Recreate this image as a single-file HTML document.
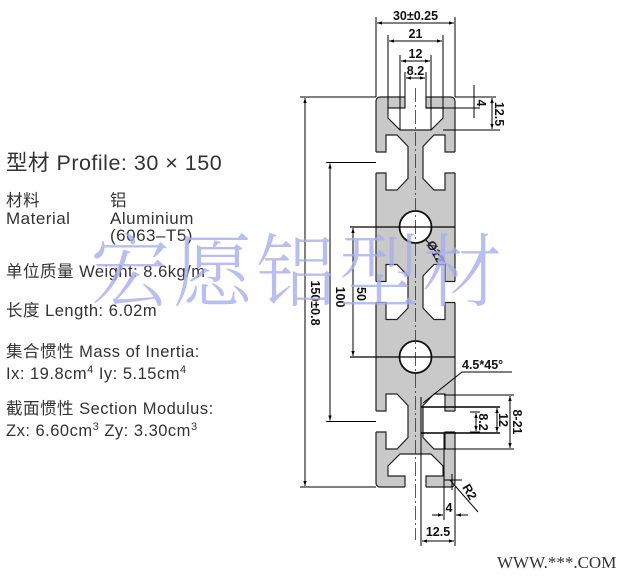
<!DOCTYPE html>
<html><head><meta charset="utf-8"><style>
html,body{margin:0;padding:0;background:#fff;}
svg{display:block;}
.t{font-family:"Liberation Sans","Noto Sans CJK SC",sans-serif;fill:#333;letter-spacing:0.5px;}
.d{font-family:"Liberation Sans",sans-serif;font-weight:bold;font-size:12.5px;fill:#111;}
</style></head><body>
<svg width="627" height="584" viewBox="0 0 627 584" xmlns="http://www.w3.org/2000/svg">
<defs>
<radialGradient id="bg" cx="0.5" cy="0" r="0.5" gradientTransform="scale(1,0.14)">
<stop offset="0" stop-color="#b5b5b5"/><stop offset="0.7" stop-color="#d8d8d8"/><stop offset="1" stop-color="#fff"/>
</radialGradient>
<marker id="a" viewBox="0 0 6 6" refX="6" refY="3" markerWidth="5" markerHeight="5" orient="auto-start-reverse"><path d="M0,1 L6,3 L0,5z" fill="#000"/></marker>
</defs>
<rect x="50" y="-2" width="480" height="24" fill="url(#bg)"/>

<!-- profile -->
<rect x="376" y="97" width="79" height="390" rx="4" fill="#c9c9c9" stroke="#222" stroke-width="1.2"/>
<g fill="#fff" stroke="none">
<path d="M374,152 L386,152 L386,135 L397,135 L408,146.5 L408,178.5 L397,190 L386,190 L386,173 L374,173z"/>
<path d="M374,281.5 L386,281.5 L386,264.5 L397,264.5 L408,276 L408,308 L397,319.5 L386,319.5 L386,302.5 L374,302.5z"/>
<path d="M374,411 L386,411 L386,394 L397,394 L408,405.5 L408,437.5 L397,449 L386,449 L386,432 L374,432z"/>
<path d="M457,152 L445,152 L445,135 L434,135 L423,146.5 L423,178.5 L434,190 L445,190 L445,173 L457,173z"/>
<path d="M457,281.5 L445,281.5 L445,264.5 L434,264.5 L423,276 L423,308 L434,319.5 L445,319.5 L445,302.5 L457,302.5z"/>
<path d="M457,411 L445,411 L445,394 L434,394 L423,405.5 L423,437.5 L434,449 L445,449 L445,432 L457,432z"/>
<path d="M405,95 L405,108 L388,108 L388,118 L400,130 L431,130 L443,118 L443,108 L426,108 L426,95z"/>
<path d="M405,489 L405,476 L388,476 L388,466 L400,454 L431,454 L443,466 L443,476 L426,476 L426,489z"/>
</g>
<g fill="none" stroke="#222" stroke-width="1.2">
<polyline points="376,152 386,152 386,135 397,135 408,146.5 408,178.5 397,190 386,190 386,173 376,173"/>
<polyline points="376,281.5 386,281.5 386,264.5 397,264.5 408,276 408,308 397,319.5 386,319.5 386,302.5 376,302.5"/>
<polyline points="376,411 386,411 386,394 397,394 408,405.5 408,437.5 397,449 386,449 386,432 376,432"/>
<polyline points="455,152 445,152 445,135 434,135 423,146.5 423,178.5 434,190 445,190 445,173 455,173"/>
<polyline points="455,281.5 445,281.5 445,264.5 434,264.5 423,276 423,308 434,319.5 445,319.5 445,302.5 455,302.5"/>
<polyline points="455,411 445,411 445,394 434,394 423,405.5 423,437.5 434,449 445,449 445,432 455,432"/>
<polyline points="405,97 405,108 388,108 388,118 400,130 431,130 443,118 443,108 426,108 426,97"/>
<polyline points="405,487 405,476 388,476 388,466 400,454 431,454 443,466 443,476 426,476 426,487"/>
</g>
<circle cx="415.5" cy="227" r="16" fill="#fff" stroke="#111" stroke-width="1.8"/>
<circle cx="415.5" cy="357" r="16" fill="#fff" stroke="#111" stroke-width="1.8"/>
<line x1="415.5" y1="88" x2="415.5" y2="540" stroke="#333" stroke-width="0.8" stroke-dasharray="14,3,2,3"/>

<!-- dimension lines -->
<g stroke="#000" stroke-width="1" fill="none">
<line x1="376" y1="17" x2="376" y2="97"/><line x1="455" y1="17" x2="455" y2="97"/>
<line x1="377" y1="23" x2="454" y2="23" marker-start="url(#a)" marker-end="url(#a)"/>
<line x1="388" y1="35" x2="388" y2="108"/><line x1="443" y1="35" x2="443" y2="108"/>
<line x1="389" y1="41" x2="442" y2="41" marker-start="url(#a)" marker-end="url(#a)"/>
<line x1="400" y1="55" x2="400" y2="130"/><line x1="431" y1="55" x2="431" y2="130"/>
<line x1="401" y1="61" x2="430" y2="61" marker-start="url(#a)" marker-end="url(#a)"/>
<line x1="405" y1="72" x2="405" y2="97"/><line x1="426" y1="72" x2="426" y2="97"/>
<line x1="406" y1="78" x2="425" y2="78" marker-start="url(#a)" marker-end="url(#a)"/>
<line x1="455" y1="97" x2="496" y2="97"/><line x1="426" y1="108" x2="480" y2="108"/><line x1="443" y1="130" x2="500" y2="130"/>
<line x1="474" y1="85" x2="474" y2="118"/>
<line x1="492" y1="98" x2="492" y2="129" marker-start="url(#a)" marker-end="url(#a)"/>
<line x1="300" y1="97" x2="376" y2="97"/><line x1="300" y1="487" x2="376" y2="487"/>
<line x1="305" y1="98" x2="305" y2="486" marker-start="url(#a)" marker-end="url(#a)"/>
<line x1="326" y1="162.5" x2="376" y2="162.5"/><line x1="326" y1="421.5" x2="376" y2="421.5"/>
<line x1="330" y1="163.5" x2="330" y2="420.5" marker-start="url(#a)" marker-end="url(#a)"/>
<line x1="350" y1="227" x2="455" y2="227" stroke-width="1.3"/><line x1="350" y1="357" x2="455" y2="357" stroke-width="1.3"/>
<line x1="353" y1="228" x2="353" y2="356" marker-start="url(#a)" marker-end="url(#a)"/>
<line x1="423" y1="403" x2="462" y2="372"/><line x1="462" y1="372" x2="512" y2="372"/>
<line x1="421" y1="397" x2="421" y2="546"/>
<line x1="444" y1="395" x2="514" y2="395"/><line x1="444" y1="449" x2="514" y2="449"/>
<line x1="510" y1="396" x2="510" y2="448" marker-start="url(#a)" marker-end="url(#a)"/>
<line x1="421" y1="407" x2="500" y2="407" stroke-width="1.6"/><line x1="421" y1="433" x2="500" y2="433" stroke-width="1.6"/>
<line x1="497" y1="408" x2="497" y2="432" marker-start="url(#a)" marker-end="url(#a)"/>
<line x1="470" y1="412" x2="480" y2="412"/><line x1="470" y1="432" x2="480" y2="432"/>
<line x1="476" y1="413" x2="476" y2="431" marker-start="url(#a)" marker-end="url(#a)"/>
<line x1="455" y1="487" x2="455" y2="546"/><line x1="444" y1="433" x2="444" y2="520"/>
<line x1="432" y1="515" x2="443" y2="515" marker-end="url(#a)"/><line x1="468" y1="515" x2="456" y2="515" marker-end="url(#a)"/>
<line x1="422" y1="541" x2="454" y2="541" marker-start="url(#a)" marker-end="url(#a)"/>
<line x1="444" y1="480" x2="462" y2="480"/><line x1="452" y1="474" x2="452" y2="490"/>
<line x1="450" y1="480" x2="478" y2="512"/>
<line x1="426" y1="240" x2="445" y2="262"/>
</g>

<text class="d" x="415.5" y="20" text-anchor="middle">30±0.25</text>
<text class="d" x="415.5" y="38" text-anchor="middle">21</text>
<text class="d" x="415.5" y="58" text-anchor="middle">12</text>
<text class="d" x="415.5" y="75" text-anchor="middle">8.2</text>
<text class="d" transform="translate(477,103) rotate(90)" text-anchor="middle">4</text>
<text class="d" transform="translate(495,114) rotate(90)" text-anchor="middle">12.5</text>
<text class="d" transform="translate(311,303) rotate(90)" text-anchor="middle">150±0.8</text>
<text class="d" transform="translate(336,297) rotate(90)" text-anchor="middle">100</text>
<text class="d" transform="translate(357,294) rotate(90)" text-anchor="middle">50</text>
<text class="d" transform="translate(432,254) rotate(60)" text-anchor="middle" style="fill:#223">Ø12</text>
<text class="d" x="462" y="369">4.5*45°</text>
<text class="d" transform="translate(513,422) rotate(90)" text-anchor="middle">8-21</text>
<text class="d" transform="translate(499,420) rotate(90)" text-anchor="middle">12</text>
<text class="d" transform="translate(479,422) rotate(90)" text-anchor="middle">8.2</text>
<text class="d" transform="translate(466,494) rotate(60)" text-anchor="middle">R2</text>
<text class="d" x="449" y="512" text-anchor="middle">4</text>
<text class="d" x="438" y="536" text-anchor="middle">12.5</text>

<g class="t">
<text x="6" y="170" font-size="21.5">型材 Profile: 30 × 150</text>
<text x="6" y="206" font-size="16.5">材料</text>
<text x="110" y="206" font-size="16.5">铝</text>
<text x="6" y="224" font-size="17">Material</text>
<text x="110" y="224" font-size="17">Aluminium</text>
<text x="110" y="241" font-size="17">(6063–T5)</text>
<text x="6" y="277" font-size="16.5">单位质量 Weight: 8.6kg/m</text>
<text x="6" y="316" font-size="16.5">长度 Length: 6.02m</text>
<text x="6" y="357" font-size="16.5">集合惯性 Mass of Inertia:</text>
<text x="6" y="379" font-size="16.5">Ix: 19.8cm<tspan font-size="11" dy="-6">4</tspan><tspan dy="6">  Iy: 5.15cm</tspan><tspan font-size="11" dy="-6">4</tspan></text>
<text x="6" y="414" font-size="16.5">截面惯性 Section Modulus:</text>
<text x="6" y="436" font-size="16.5">Zx: 6.60cm<tspan font-size="11" dy="-6">3</tspan><tspan dy="6">  Zy: 3.30cm</tspan><tspan font-size="11" dy="-6">3</tspan></text>
</g>

<text x="90" y="300" font-size="80" font-weight="300" letter-spacing="3" fill="#a9aeea" fill-opacity="0.8" font-family="'Noto Serif CJK SC','WenQuanYi Zen Hei',serif">宏愿铝型材</text>

<text x="497" y="568" font-size="17" fill="#333" font-family="'Liberation Serif',serif">WWW.***.COM</text>
</svg>
</body></html>
